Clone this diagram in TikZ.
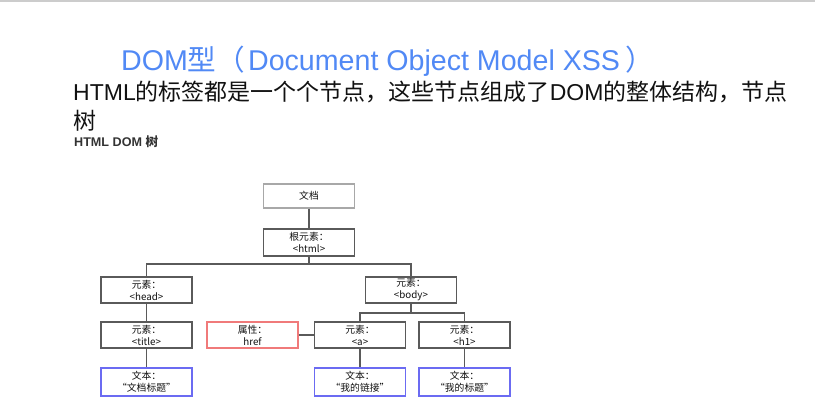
\documentclass[tikz,border=0pt]{standalone}
\usepackage{fontspec}
\setmainfont{Liberation Sans}
\newfontfamily\cjk{Noto Sans CJK SC}
\usepackage{xcolor}
\usepackage{tikz}
\usetikzlibrary{calc}
\definecolor{titleblue}{HTML}{5189F5}
\definecolor{ink}{HTML}{111111}
\definecolor{frame}{HTML}{5A5A5A}
\definecolor{docgray}{HTML}{A8A8A8}
\definecolor{attrred}{HTML}{F07A7A}
\definecolor{textblue}{HTML}{6B6BF2}
\definecolor{rulegray}{HTML}{CCCCCC}
\tikzset{
  box/.style={draw=frame, line width=1.3pt, minimum width=91pt, minimum height=26pt,
    inner sep=0pt, align=center, text=ink, font=\cjk\fontsize{9.8}{12}\selectfont},
  docbox/.style={box, draw=docgray, minimum height=24pt},
  attrbox/.style={box, draw=attrred},
  txtbox/.style={box, draw=textblue, minimum height=28pt},
  link/.style={draw=frame, line width=1.2pt},
  lead/.style={anchor=base west, inner sep=0pt, text=ink}
}

\begin{document}
\begin{tikzpicture}[x=1pt, y=-1pt]
  \useasboundingbox (0,0) rectangle (815,419);
  \draw[rulegray, line width=2pt] (0,1) -- (815,1);

  \node[lead, text=titleblue, font=\fontsize{28.6}{34}\selectfont] (heading) at (121,71)
    {DOM{\cjk 型（}\kern3pt Document Object Model XSS\kern5pt{\cjk ）}};
  \node[lead, font=\fontsize{23}{28}\selectfont] (intro) at (73,101)
    {HTML{\cjk 的标签都是一个个节点，这些节点组成了}DOM{\cjk 的整体结构，节点}};
  \node[lead, font=\cjk\fontsize{23}{28}\selectfont] (introtail) at (73,130) {树};
  \node[lead, text=black!80, font=\bfseries\fontsize{12.6}{14}\selectfont] (caption) at (74,147)
    {HTML DOM {\cjk 树}};

  \node[docbox] (doc) at (309,196) {文档};
  \node[box, minimum height=27pt] (html) at (309,242.5) {根元素：\\<html>};
  \node[box] (head) at (146.5,290) {元素：\\<head>};
  \node[box] (body) at (411,290) {元素：\\<body>};
  \node[box] (title) at (146.5,335) {元素：\\<title>};
  \node[attrbox] (href) at (252.5,335) {属性：\\href};
  \node[box] (a) at (360,335) {元素：\\<a>};
  \node[box] (h1) at (464.5,335) {元素：\\<h1>};
  \node[txtbox] (titletext) at (146.5,382) {文本：\\“文档标题”};
  \node[txtbox] (atext) at (360,382) {文本：\\“我的链接”};
  \node[txtbox] (h1text) at (464.5,382) {文本：\\“我的标题”};

  \coordinate (bus) at (0,264);
  \coordinate (bodybus) at (0,313);

  \draw[link] (doc) -- (html);
  \draw[link] (html.south) -- (html.south |- bus) -| (head.north);
  \draw[link] (html.south) -- (html.south |- bus) -| (body.north);
  \draw[link] (head) -- (title);
  \draw[link] (body.south) -- (body.south |- bodybus) -| (a.north);
  \draw[link] (body.south) -- (body.south |- bodybus) -| (h1.north);
  \draw[link] (href) -- (a);
  \draw[link] (title) -- (titletext);
  \draw[link] (a) -- (atext);
  \draw[link] (h1) -- (h1text);
\end{tikzpicture}
\end{document}
